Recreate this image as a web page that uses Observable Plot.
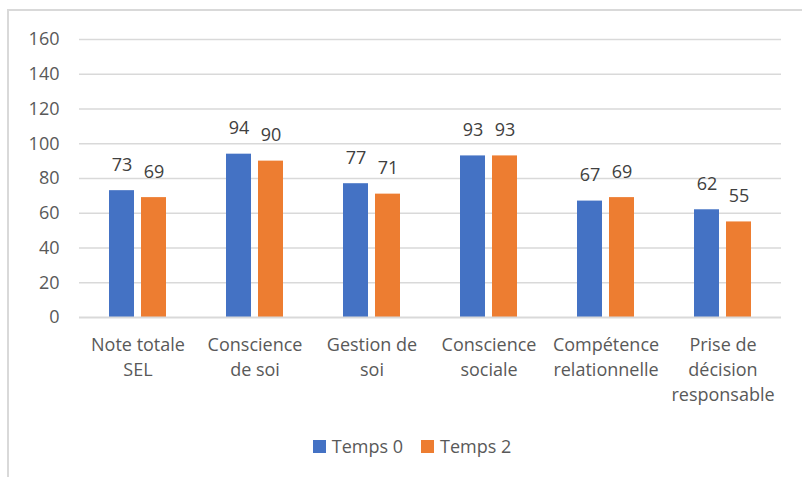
<!DOCTYPE html>
<html>
<head>
<meta charset="utf-8">
<script src="https://cdn.jsdelivr.net/npm/d3@7"></script>
<script src="https://cdn.jsdelivr.net/npm/@observablehq/plot@0.6"></script>
<style>
  html, body { margin: 0; padding: 0; background: #fff; }
  body { width: 802px; height: 477px; position: relative; overflow: hidden; font-family: "Open Sans", sans-serif; }
  #frame { position: absolute; left: 7px; top: 9px; width: 800px; height: 470px; border-top: 2px solid #d9d9d9; border-left: 2px solid #d9d9d9; box-sizing: border-box; pointer-events: none; }
  #chart { position: absolute; left: 0; top: 0; }
  #legend { position: absolute; left: 11px; width: 802px; top: 434px; line-height: 24px; display: flex; justify-content: center; gap: 18px; font-size: 18px; color: #595959; }
  #legend .item { display: flex; align-items: center; gap: 6px; }
  #legend .sw { width: 13px; height: 13px; display: inline-block; }
</style>
</head>
<body>
<div id="chart"></div>
<div id="legend"></div>
<div id="frame"></div>
<script>
const categories = ["Note totale\nSEL", "Conscience\nde soi", "Gestion de\nsoi", "Conscience\nsociale", "Compétence\nrelationnelle", "Prise de\ndécision\nresponsable"];
const series = ["Temps 0", "Temps 2"];
const temps0 = [73, 94, 77, 93, 67, 62];
const temps2 = [69, 90, 71, 93, 69, 55];
const colors = ["#4472C4", "#ED7D31"];
const yTicks = [0, 20, 40, 60, 80, 100, 120, 140, 160];

const data = [];
categories.forEach((c, i) => {
  data.push({cat: c, series: series[0], value: temps0[i]});
  data.push({cat: c, series: series[1], value: temps2[i]});
});

const chart = Plot.plot({
  width: 802,
  height: 425,
  marginLeft: 78,
  marginRight: 20,
  marginTop: 39,
  marginBottom: 108,
  style: {fontFamily: "'Open Sans', sans-serif", fontSize: "18px", color: "#595959", background: "transparent"},
  fx: {domain: categories, padding: 0},
  x: {domain: series, paddingInner: 0.212, paddingOuter: 0.883, axis: null},
  y: {domain: [0, 160], ticks: yTicks},
  color: {domain: series, range: colors},
  marks: [
    Plot.gridY(yTicks.filter(t => t > 0), {stroke: "#d9d9d9", strokeOpacity: 1, strokeWidth: 1.5}),
    Plot.barY(data, {fx: "cat", x: "series", y: "value", fill: "series"}),
    Plot.ruleY([0], {stroke: "#d9d9d9", strokeWidth: 2}),
    Plot.text(data, {fx: "cat", x: "series", y: "value", text: d => String(d.value), dy: -20, lineAnchor: "bottom", fill: "#404040", fontSize: 18}),
    Plot.axisY(yTicks, {tickSize: 0, tickPadding: 20, label: null, fill: "#595959", fontSize: 18}),
    Plot.axisFx({anchor: "bottom", tickSize: 0, tickPadding: 16, label: null, fill: "#595959", fontSize: 18, lineHeight: 1.39})
  ]
});
document.getElementById("chart").appendChild(chart);

const legend = document.getElementById("legend");
series.forEach((s, i) => {
  const item = document.createElement("span");
  item.className = "item";
  const sw = document.createElement("span");
  sw.className = "sw";
  sw.style.background = colors[i];
  const lab = document.createElement("span");
  lab.textContent = s;
  item.appendChild(sw);
  item.appendChild(lab);
  legend.appendChild(item);
});
</script>
</body>
</html>
